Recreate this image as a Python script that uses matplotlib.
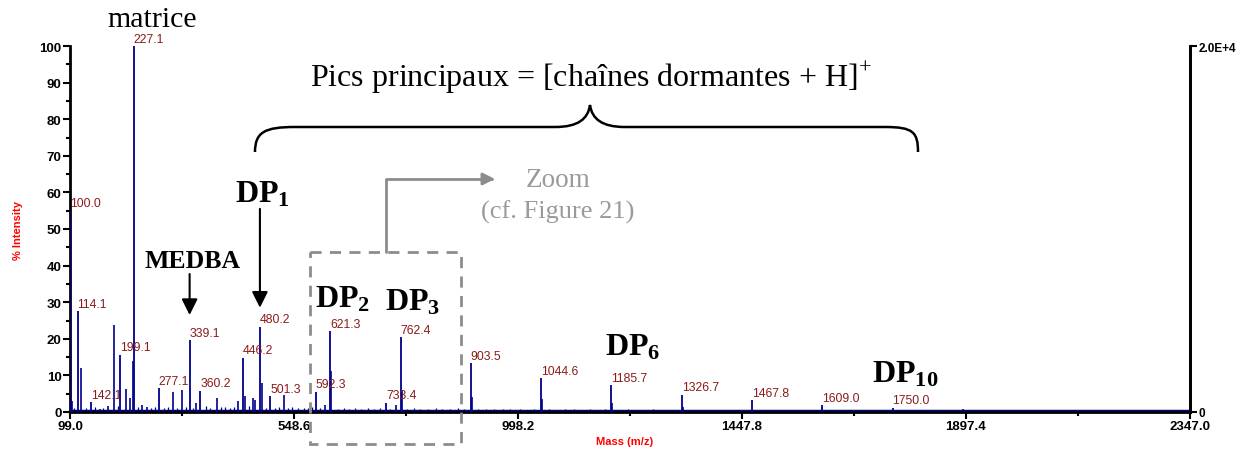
#!/usr/bin/env python3
"""
Spectre MALDI-TOF des chaînes dormantes : pics principaux annotés.
"""

import matplotlib
matplotlib.use("Agg")
import matplotlib.pyplot as plt
import matplotlib.transforms as mtransforms
from matplotlib.path import Path
from matplotlib.patches import PathPatch, Rectangle, FancyArrowPatch

plt.rcParams['font.family'] = ['Liberation Sans', 'DejaVu Sans']
plt.rcParams['mathtext.fontset'] = 'custom'
plt.rcParams['mathtext.rm'] = 'Liberation Serif'
plt.rcParams['mathtext.bf'] = 'Liberation Serif:bold'

# Pics étiquetés (m/z, % intensité)
pics_mz = [100.0, 114.1, 142.1, 199.1, 227.1, 277.1, 339.1, 360.2, 446.2, 480.2,
           501.3, 592.3, 621.3, 733.4, 762.4, 903.5, 1044.6, 1185.7, 1326.7,
           1467.8, 1609.0, 1750.0]
pics_int = [55.0, 27.5, 2.7, 15.7, 100.0, 6.5, 19.6, 5.8, 14.8, 23.3,
            4.3, 5.5, 22.1, 2.5, 20.5, 13.3, 9.2, 7.3, 4.7,
            3.2, 1.9, 1.2]

# Pics secondaires non étiquetés
autres_mz = [103.0, 121.2, 159.5, 176.0, 187.0, 211.9, 220.0, 225.3, 243.5, 253.6,
             306.7, 324.8, 352.3, 394.0, 437.0, 450.4, 466.6, 470.6, 484.0, 527.8,
             611.0, 623.5, 753.0, 764.5, 905.5, 1046.6, 1187.7, 1328.7, 1891.0]
autres_int = [3.0, 12.1, 0.8, 1.6, 23.9, 6.3, 3.9, 13.9, 1.8, 1.5,
              5.5, 5.9, 2.4, 3.8, 2.9, 4.4, 3.8, 3.2, 8.0, 4.7,
              2.0, 11.2, 1.8, 6.0, 4.0, 3.5, 2.5, 1.5, 0.8]

# Bruit de fond
bruit_mz = [108, 131, 149, 166, 196, 236, 262, 270, 288, 296, 314, 331, 345, 372, 381,
            402, 411, 420, 428, 458, 492, 510, 518, 536, 545, 556, 568, 577, 584, 601,
            636, 648, 659, 672, 684, 697, 709, 721, 741, 776, 789, 801, 818, 833, 846,
            861, 877, 889, 918, 933, 951, 968, 983, 1002, 1019, 1031, 1060, 1078, 1093,
            1111, 1127, 1142, 1160, 1172, 1201, 1219, 1237, 1254, 1270, 1290, 1306,
            1343, 1361, 1380, 1398, 1415, 1433, 1452, 1484, 1503, 1521, 1540, 1558,
            1576, 1594, 1626, 1645, 1663, 1682, 1700, 1718, 1735, 1768, 1786, 1804,
            1822, 1840, 1858, 1876, 1910, 1940, 1975, 2005, 2040, 2080, 2120, 2160,
            2200, 2250, 2300]
bruit_int = [1.2, 1.0, 1.3, 1.1, 1.6, 1.4, 1.2, 1.5, 1.0, 1.3, 1.1, 1.4, 1.0, 1.6, 1.2,
             1.3, 1.5, 1.0, 1.4, 1.6, 1.2, 1.1, 1.3, 1.0, 1.4, 1.2, 1.0, 1.1, 1.3, 1.0,
             0.9, 1.1, 0.8, 1.0, 0.9, 1.2, 0.8, 1.0, 0.9, 0.8, 1.1, 0.9, 0.8, 1.0, 0.9,
             0.8, 1.0, 0.7, 0.8, 0.9, 0.7, 0.8, 0.7, 0.9, 0.6, 0.8, 0.7, 0.6, 0.8,
             0.7, 0.6, 0.8, 0.6, 0.7, 0.6, 0.7, 0.5, 0.6, 0.7, 0.5, 0.6,
             0.6, 0.5, 0.6, 0.5, 0.6, 0.5, 0.5, 0.6, 0.5, 0.5, 0.6, 0.4,
             0.5, 0.5, 0.5, 0.4, 0.5, 0.4, 0.5, 0.4, 0.4, 0.4, 0.5, 0.4,
             0.4, 0.4, 0.3, 0.4, 0.4, 0.3, 0.3, 0.3, 0.3, 0.3, 0.3, 0.3,
             0.3, 0.3, 0.3]

x_ticks = [99.0, 548.6, 998.2, 1447.8, 1897.4, 2347.0]
x_min, x_max = 99.0, 2347.0

BLEU = '#00008B'
ROUGE_ETIQ = '#8B1A1A'
GRIS = '#8C8C8C'
W, H = 1240, 452

fig = plt.figure(figsize=(W / 100, H / 100), dpi=100)
ax = fig.add_axes([70 / W, 1 - 413 / H, 1120 / W, 366 / H])

# transformation en pixels de l'image (origine en haut à gauche)
pix = mtransforms.Affine2D().scale(1 / W, -1 / H).translate(0, 1) + fig.transFigure

# spectre
ax.hlines(0.3, x_min, x_max, color=BLEU, lw=2.5, zorder=2)
ax.vlines(bruit_mz, 0, bruit_int, color=BLEU, lw=0.9, zorder=2)
ax.vlines(autres_mz, 0, autres_int, color=BLEU, lw=1.2, zorder=3)
ax.vlines(pics_mz, 0, pics_int, color=BLEU, lw=1.3, zorder=3)
for mz, h in zip(pics_mz, pics_int):
    ax.annotate(f"{mz:.1f}", (mz, h), xytext=(0, 1), textcoords='offset points',
                ha='left', va='bottom', fontsize=8.8, color=ROUGE_ETIQ,
                annotation_clip=False)

ax.set_xlim(x_min, x_max)
ax.set_ylim(0, 100)
ax.set_xticks(x_ticks)
ax.set_xticklabels([f"{t:.1f}" for t in x_ticks])
ax.set_xticks([(a + b) / 2 for a, b in zip(x_ticks[:-1], x_ticks[1:])], minor=True)
ax.set_yticks(range(0, 101, 10))
ax.set_yticks(range(5, 100, 10), minor=True)
for lab in ax.get_xticklabels() + ax.get_yticklabels():
    lab.set_fontweight('bold')
    lab.set_fontsize(9.5)
ax.tick_params(axis='both', which='major', length=5, width=1.5, pad=1)
ax.tick_params(axis='both', which='minor', length=3, width=1.5)
ax.spines['top'].set_visible(False)
for s in ('left', 'bottom', 'right'):
    ax.spines[s].set_linewidth(2)

ax.set_xlabel("Mass (m/z)", color='red', fontsize=8, fontweight='bold', va='center')
ax.xaxis.set_label_coords(0.495, -0.08)
ax.set_ylabel("% Intensity", color='red', fontsize=8, fontweight='bold', va='center')
ax.yaxis.set_label_coords(-0.046, 0.5)

# axe de droite en comptes absolus
ax2 = ax.twinx()
ax2.set_ylim(0, 2.0e4)
ax2.set_yticks([0, 2.0e4])
ax2.set_yticklabels(['0', '2.0E+4'], fontweight='bold', fontsize=8.5)
ax2.tick_params(axis='y', length=5, width=1.5, pad=1)
ax2.spines['top'].set_visible(False)
ax2.spines['right'].set_linewidth(2)
ax2.spines['left'].set_visible(False)
ax2.spines['bottom'].set_visible(False)

# flèches vers DP1 et MEDBA
fleche = dict(arrowstyle='-|>', color='black', lw=1.5, mutation_scale=24,
              shrinkA=0, shrinkB=0)
ax.annotate('', xy=(480.2, 28.5), xytext=(480.2, 55.5), arrowprops=fleche,
            annotation_clip=False)
ax.annotate('', xy=(339.1, 26.5), xytext=(339.1, 37.7), arrowprops=fleche,
            annotation_clip=False)

# accolade au-dessus des pics principaux
verts = [(255, 153), (255, 133), (265, 128), (295, 128),
         (555, 128),
         (578, 128), (588, 120), (590, 106),
         (592, 120), (602, 128), (625, 128),
         (885, 128),
         (913, 128), (918, 133), (918, 153)]
codes = ([Path.MOVETO] + [Path.CURVE4] * 3 + [Path.LINETO] + [Path.CURVE4] * 3
         + [Path.CURVE4] * 3 + [Path.LINETO] + [Path.CURVE4] * 3)
fig.add_artist(PathPatch(Path(verts, codes), transform=pix, fill=False,
                         lw=1.8, ec='black'))

# cadre du zoom
fig.add_artist(Rectangle((310, 253), 151, 192, transform=pix, fill=False,
                         ec=GRIS, lw=2, ls=(0, (4, 3))))
fig.add_artist(FancyArrowPatch(path=Path([(386, 253), (386, 180), (495, 180)]),
                               transform=pix, arrowstyle='-|>', color=GRIS,
                               lw=2, mutation_scale=18))

serif = ['Liberation Serif', 'DejaVu Serif']
fig.text(152, 20, "matrice", transform=pix, family=serif, fontsize=21.5,
         ha='center', va='center')
fig.text(591, 78, r"Pics principaux = [chaînes dormantes + H]$^{+}$", transform=pix,
         family=serif, fontsize=23, ha='center', va='center')
fig.text(558, 181, "Zoom", transform=pix, family=serif, fontsize=19.5,
         color='#9A9A9A', ha='center', va='center')
fig.text(558, 212, "(cf. Figure 21)", transform=pix, family=serif, fontsize=19,
         color='#9A9A9A', ha='center', va='center')
fig.text(193, 262, "MEDBA", transform=pix, family=serif, fontsize=18.5,
         fontweight='bold', ha='center', va='center')

etiquettes_dp = [(262, 195, r"$\mathbf{DP_{1}}$"), (343, 300, r"$\mathbf{DP_{2}}$"),
                 (413, 303, r"$\mathbf{DP_{3}}$"), (633, 348, r"$\mathbf{DP_{6}}$"),
                 (905, 375, r"$\mathbf{DP_{10}}$")]
for x, y, txt in etiquettes_dp:
    fig.text(x, y, txt, transform=pix, fontsize=23, ha='center', va='center')

fig.savefig("out.png", dpi=100)
